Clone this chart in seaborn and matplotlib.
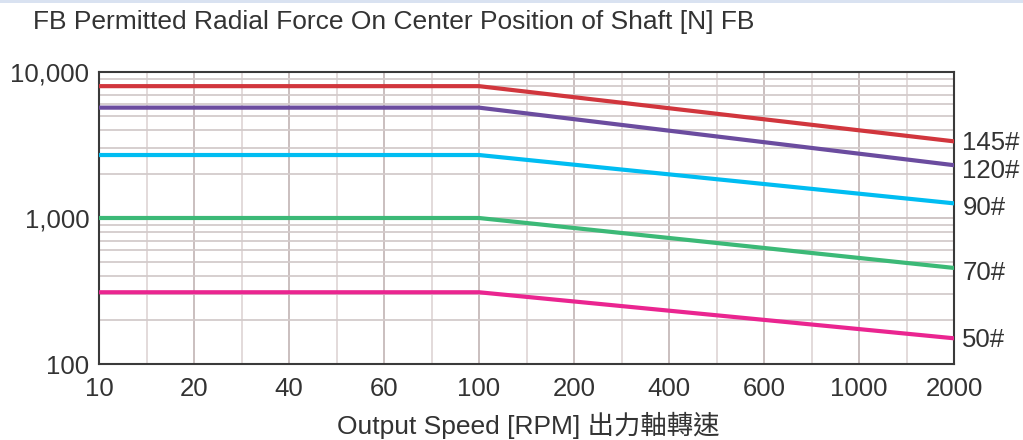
import numpy as np
import pandas as pd
import matplotlib
matplotlib.use("Agg")
import matplotlib.pyplot as plt
from matplotlib.patches import Rectangle
from matplotlib.ticker import FixedLocator, NullFormatter
import seaborn as sns

# ---- data ----
tick_speeds = [10, 20, 40, 60, 100, 200, 400, 600, 1000, 2000]
speeds = [10, 100, 2000]
series_names = ["145#", "120#", "90#", "70#", "50#"]
force_145 = [8000, 8000, 3350]
force_120 = [5700, 5700, 2300]
force_90 = [2700, 2700, 1260]
force_70 = [1000, 1000, 455]
force_50 = [310, 310, 150]
colors = ["#d1363d", "#6b4c9f", "#00bdf2", "#3cb977", "#ea2590"]
y_ticks = [100, 1000, 10000]
y_tick_labels = ["100", "1,000", "10,000"]

all_forces = [force_145, force_120, force_90, force_70, force_50]
df = pd.DataFrame({
    "speed": np.tile(speeds, len(series_names)),
    "force": np.concatenate(all_forces),
    "series": np.repeat(series_names, len(speeds)),
})

sns.set_style("white")
plt.rcParams["font.family"] = ["Liberation Sans", "Noto Sans CJK TC", "DejaVu Sans"]

fig = plt.figure(figsize=(10.23, 4.40), dpi=100)
ax = fig.add_axes([99 / 1023, 1 - 364 / 440, (954 - 99) / 1023, (364 - 72) / 440])

idx = np.arange(len(tick_speeds), dtype=float)
tv = np.array(tick_speeds, dtype=float)

def fwd(x):
    return np.interp(np.asarray(x, dtype=float), tv, idx)

def inv(i):
    return np.interp(np.asarray(i, dtype=float), idx, tv)

ax.set_xscale("function", functions=(fwd, inv))
ax.set_yscale("log")

sns.lineplot(data=df, x="speed", y="force", hue="series", palette=colors,
             hue_order=series_names, linewidth=3.0, ax=ax, legend=False,
             zorder=3)

ax.set_xlim(10, 2000)
ax.set_ylim(100, 10000)

# ticks
ax.xaxis.set_major_locator(FixedLocator(tick_speeds))
ax.set_xticklabels([str(t) for t in tick_speeds])
ax.xaxis.set_minor_locator(FixedLocator(inv(idx[:-1] + 0.5)))
ax.xaxis.set_minor_formatter(NullFormatter())
ax.yaxis.set_major_locator(FixedLocator(y_ticks))
ax.set_yticklabels(y_tick_labels)
ax.yaxis.set_minor_locator(FixedLocator([m * d for d in (100, 1000) for m in range(2, 10)]))
ax.yaxis.set_minor_formatter(NullFormatter())

ax.tick_params(axis="both", which="both", length=0, labelsize=18.5, colors="#333333")
ax.tick_params(axis="x", pad=9)
ax.tick_params(axis="y", pad=7)

ax.grid(True, which="major", axis="x", color="#c6baba", linewidth=1.3, zorder=0)
ax.grid(True, which="minor", axis="x", color="#e0d8d8", linewidth=1.3, zorder=0)
ax.grid(True, which="major", axis="y", color="#cbc2c2", linewidth=1.3, zorder=0)
ax.grid(True, which="minor", axis="y", color="#d3cbcb", linewidth=1.3, zorder=0)
ax.set_axisbelow(True)

for sp in ax.spines.values():
    sp.set_color("#3a3a3a")
    sp.set_linewidth(1.5)

ax.set_xlabel("")
ax.set_ylabel("")

# right-side series labels
label_dy = {"145#": -1, "120#": -4, "90#": -3, "70#": -4, "50#": -1}
for name, f in zip(series_names, all_forces):
    ax.annotate(name, xy=(1.0, f[-1]), xycoords=("axes fraction", "data"),
                xytext=(6, label_dy[name]), textcoords="offset points",
                ha="left", va="center", fontsize=18.5, color="#333333")

fig.text(33 / 1023, 1 - 22 / 440, "FB Permitted Radial Force On Center Position of Shaft [N] FB",
         ha="left", va="center", fontsize=19, color="#333333")
fig.text(528 / 1023, 1 - 425 / 440, "Output Speed [RPM] 出力軸轉速",
         ha="center", va="center", fontsize=19, color="#333333")

fig.patches.append(Rectangle((0, 1 - 3 / 440), 1, 3 / 440, transform=fig.transFigure,
                             facecolor="#d9e2f1", edgecolor="none"))

fig.savefig("out.png", dpi=100)
